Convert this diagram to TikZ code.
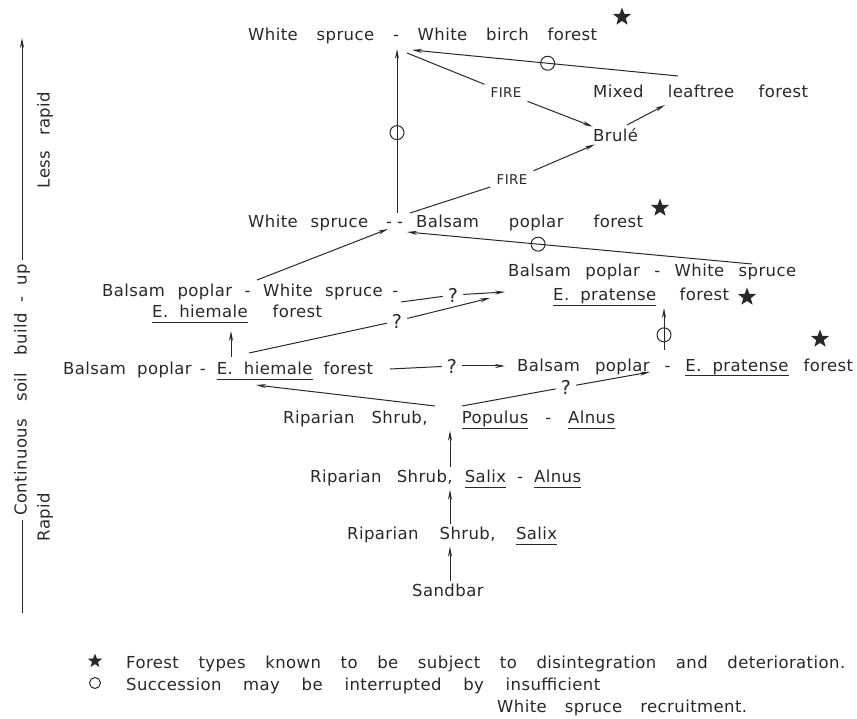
\documentclass[tikz,border=0pt]{standalone}
\usepackage{fontspec}
\setmainfont{DejaVu Sans}[LetterSpace=2.5]
\usetikzlibrary{arrows.meta,shapes.geometric}
\definecolor{ink}{RGB}{40,40,40}
\newsavebox\ulbox
\newcommand\ulx[1]{\sbox\ulbox{#1}\rlap{\rule[-5.5pt]{\wd\ulbox}{1pt}}\usebox\ulbox}
\newcommand\fitw[2]{\hbox to #1pt{\spaceskip=11pt plus 40pt minus 8pt\xspaceskip=\spaceskip #2}}
\newcommand\lab{\fontsize{16.5}{20}\selectfont\spaceskip=11pt plus 4pt minus 3pt\xspaceskip=\spaceskip}
\newcommand\sml{\fontsize{13.5}{16}\selectfont}
\newcommand\qfont{\fontsize{19}{22}\selectfont}
\tikzset{
  lbl/.style={font=\lab, inner sep=2pt, anchor=base west},
  firel/.style={font=\sml, inner sep=6pt},
  qm/.style={font=\qfont, inner sep=5pt},
  arr/.style={-{Stealth[length=10pt,width=4pt]}, line width=1pt},
  ln/.style={line width=1pt},
  circ/.style={circle, draw, line width=1pt, minimum size=14pt, inner sep=0pt},
  starn/.style={star, star points=5, star point ratio=2.4, fill=ink, draw=none, inner sep=0pt, minimum size=19pt},
  axlbl/.style={font=\lab, inner sep=4pt, rotate=90}
}
\begin{document}
\begin{tikzpicture}[x=1pt, y=-1pt, color=ink, text=ink]
\useasboundingbox (0,0) rectangle (857,719);

% ---------- axis ----------
\coordinate (axb) at (22,613);
\coordinate (axt) at (22,38);
\node[axlbl] (axl) at (22,390) {Continuous\hspace{6pt} soil\hspace{6pt} build - up};
\node[axlbl] (less) at (45,140) {Less\hspace{4pt} rapid};
\node[axlbl] (rapid) at (45,517) {Rapid};
\draw[ln] (axb) -- (axl.west);
\draw[arr] (axl.east) -- (axt);

% ---------- text nodes ----------
\node[lbl] (wswb) at (246,41) {\fitw{349}{White spruce - White birch forest}};
\node[lbl] (mlf) at (591,98) {\fitw{215}{Mixed leaftree forest}};
\node[lbl] (brule) at (591,142) {Brulé};
\node[firel] (fire1) at (506,93) {FIRE};
\node[firel] (fire2) at (512,180) {FIRE};
\node[lbl] (wsbp) at (246,228) {\fitw{120}{White spruce}\hspace{18pt}-\hspace{5pt}-\hspace{13pt}\fitw{227}{Balsam poplar forest}};
\node[lbl] (bpwsr) at (506,277) {\fitw{288}{Balsam poplar - White spruce}};
\node[lbl] (ep) at (551,301) {\fitw{176}{\ulx{E. pratense} forest}};
\node[lbl] (bpwsl) at (100,297) {\fitw{296}{Balsam poplar - White spruce\hspace{-3pt} -}};
\node[lbl] (eh) at (150,318) {\fitw{170}{\ulx{E. hiemale} forest}};
\node[lbl] (bpeh) at (61,374) {\fitw{310}{Balsam poplar\hspace{-3pt} - \ulx{E. hiemale} forest}};
\node[lbl] (bpep) at (515,371) {\fitw{336}{Balsam poplar - \ulx{E. pratense} forest}};
\node[lbl] (rspa) at (281,423) {\fitw{332}{Riparian Shrub,\hspace{16pt} \ulx{Populus} - \ulx{Alnus}}};
\node[lbl] (rssa) at (308,482) {\fitw{271}{Riparian Shrub,\hspace{-4pt} \ulx{Salix}\hspace{-4pt} -\hspace{-4pt} \ulx{Alnus}}};
\node[lbl] (rss) at (345,539) {\fitw{210}{Riparian Shrub,\hspace{-3pt} \ulx{Salix}}};
\node[lbl] (sand) at (410,596) {Sandbar};

% question marks
\node[qm] (q1) at (453,295) {?};
\node[qm] (q2) at (397,321) {?};
\node[qm] (q3) at (452,366) {?};
\node[qm] (q4) at (566,387) {?};

% stars
\node[starn] (s1) at (622,17) {};
\node[starn] (s2) at (660,208) {};
\node[starn] (s3) at (747,297) {};
\node[starn] (s4) at (820,339) {};

% ---------- connectors ----------
\coordinate (a1s) at (397,213);
\coordinate (a1e) at (397,49);
\draw[arr] (a1s) -- node[circ, pos=0.49] (o1) {} (a1e);

\coordinate (a2s) at (678,76);
\coordinate (a2e) at (412,50);
\draw[arr] (a2s) -- node[circ, pos=0.49] (o2) {} (a2e);

\coordinate (f1s) at (407,53);
\draw[ln] (f1s) -- (fire1);
\draw[arr] (fire1) -- (brule);

\coordinate (f2s) at (410,213);
\draw[ln] (f2s) -- (fire2);
\draw[arr] (fire2) -- (brule);

\coordinate (b1) at (627,125);
\coordinate (b2) at (665,105);
\draw[arr] (b1) -- (b2);

\coordinate (l1s) at (257,280);
\coordinate (l1e) at (388,229);
\draw[arr] (l1s) -- (l1e);

\coordinate (r1s) at (752,264);
\coordinate (r1e) at (407,232);
\draw[arr] (r1s) -- node[circ, pos=0.62] (o3) {} (r1e);

\coordinate (q1s) at (401,302);
\coordinate (q1e) at (505,292);
\draw[ln] (q1s) -- (q1);
\draw[arr] (q1) -- (q1e);

\coordinate (q2s) at (249,353);
\coordinate (q2e) at (490,298);
\draw[ln] (q2s) -- (q2);
\draw[arr] (q2) -- (q2e);

\coordinate (q3s) at (390,369);
\coordinate (q3e) at (505,366);
\draw[ln] (q3s) -- (q3);
\draw[arr] (q3) -- (q3e);

\coordinate (q4s) at (462,406);
\coordinate (q4e) at (650,372);
\draw[ln] (q4s) -- (q4);
\draw[arr] (q4) -- (q4e);

\coordinate (p1s) at (435,406);
\coordinate (p1e) at (256,385);
\draw[arr] (p1s) -- (p1e);

\coordinate (h1s) at (231,357);
\coordinate (h1e) at (231,331);
\draw[arr] (h1s) -- (h1e);

\coordinate (e1s) at (664,350);
\coordinate (e1e) at (664,308);
\draw[arr] (e1s) -- node[circ, pos=0.36] (o4) {} (e1e);

\coordinate (ax) at (450,0);
\draw[arr] (sand.north -| ax) -- (rss.south -| ax);
\draw[arr] (rss.north -| ax) -- (rssa.south -| ax);
\draw[arr] (rssa.north -| ax) -- (rspa.south -| ax);

% ---------- legend ----------
\node[starn, minimum size=15pt] (ls) at (95,661) {};
\node[circ, minimum size=11pt] (lc) at (95,683) {};
\node[lbl] (lt1) at (124,668) {\fitw{719}{Forest types known to be subject to disintegration and deterioration.}};
\node[lbl] (lt2) at (124,690) {\fitw{474}{Succession may be interrupted by insufficient}};
\node[lbl] (lt3) at (495,712) {\fitw{250}{White spruce recruitment.}};
\end{tikzpicture}
\end{document}
